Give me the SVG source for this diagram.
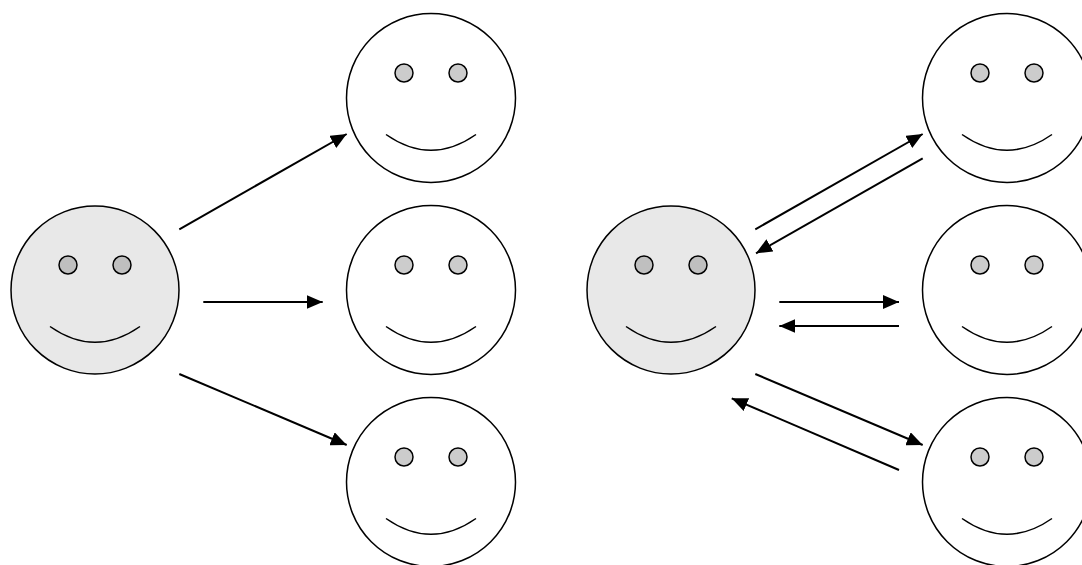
<svg xmlns="http://www.w3.org/2000/svg" width="1082" height="565" viewBox="0 0 1082 565">
<style>
.face{stroke:#000;stroke-width:1.5}
.big{fill:#e8e8e8}
.small{fill:#fff}
.eye{stroke:#000;stroke-width:1.5}
.big-eye{fill:#bfbfbf}
.small-eye{fill:#cccccc}
.mouth{fill:none;stroke:#000;stroke-width:1.5}
.conn line{stroke:#000;stroke-width:2;marker-end:url(#arr)}
</style>
<defs>
<marker id="arr" markerUnits="userSpaceOnUse" markerWidth="16" markerHeight="14" refX="16" refY="7" orient="auto" viewBox="0 0 16 14">
<path d="M0,0 L16,7 L0,14 Z" fill="#000"/>
</marker>
<g id="smile">
<path class="mouth" d="M-45,36.5 Q0,68 45,36.5"/>
</g>
</defs>
<rect width="1082" height="565" fill="#fff"/>

<g id="left-source" transform="translate(95,290)">
<circle class="face big" r="84"/>
<circle class="eye big-eye" cx="-27" cy="-25" r="9"/>
<circle class="eye big-eye" cx="27" cy="-25" r="9"/>
<use href="#smile"/>
</g>
<g id="left-top" transform="translate(431,98)">
<circle class="face small" r="84.5"/>
<circle class="eye small-eye" cx="-27" cy="-25" r="9"/>
<circle class="eye small-eye" cx="27" cy="-25" r="9"/>
<use href="#smile"/>
</g>
<g id="left-mid" transform="translate(431,290)">
<circle class="face small" r="84.5"/>
<circle class="eye small-eye" cx="-27" cy="-25" r="9"/>
<circle class="eye small-eye" cx="27" cy="-25" r="9"/>
<use href="#smile"/>
</g>
<g id="left-bottom" transform="translate(431,482)">
<circle class="face small" r="84.5"/>
<circle class="eye small-eye" cx="-27" cy="-25" r="9"/>
<circle class="eye small-eye" cx="27" cy="-25" r="9"/>
<use href="#smile"/>
</g>

<g id="right-source" transform="translate(671,290)">
<circle class="face big" r="84"/>
<circle class="eye big-eye" cx="-27" cy="-25" r="9"/>
<circle class="eye big-eye" cx="27" cy="-25" r="9"/>
<use href="#smile"/>
</g>
<g id="right-top" transform="translate(1007,98)">
<circle class="face small" r="84.5"/>
<circle class="eye small-eye" cx="-27" cy="-25" r="9"/>
<circle class="eye small-eye" cx="27" cy="-25" r="9"/>
<use href="#smile"/>
</g>
<g id="right-mid" transform="translate(1007,290)">
<circle class="face small" r="84.5"/>
<circle class="eye small-eye" cx="-27" cy="-25" r="9"/>
<circle class="eye small-eye" cx="27" cy="-25" r="9"/>
<use href="#smile"/>
</g>
<g id="right-bottom" transform="translate(1007,482)">
<circle class="face small" r="84.5"/>
<circle class="eye small-eye" cx="-27" cy="-25" r="9"/>
<circle class="eye small-eye" cx="27" cy="-25" r="9"/>
<use href="#smile"/>
</g>

<g id="connectors" class="conn">
<line x1="179.3" y1="229.3" x2="346.7" y2="134"/>
<line x1="203.3" y1="302" x2="322.7" y2="302"/>
<line x1="179.3" y1="374" x2="346.7" y2="445"/>

<line x1="755.3" y1="229.3" x2="922.7" y2="134"/>
<line x1="922.7" y1="158.3" x2="756" y2="253.3"/>
<line x1="779.3" y1="302" x2="899" y2="302"/>
<line x1="899" y1="326" x2="779.3" y2="326"/>
<line x1="755.3" y1="374" x2="922.7" y2="445"/>
<line x1="899" y1="470" x2="731.7" y2="398.3"/>
</g>
</svg>
